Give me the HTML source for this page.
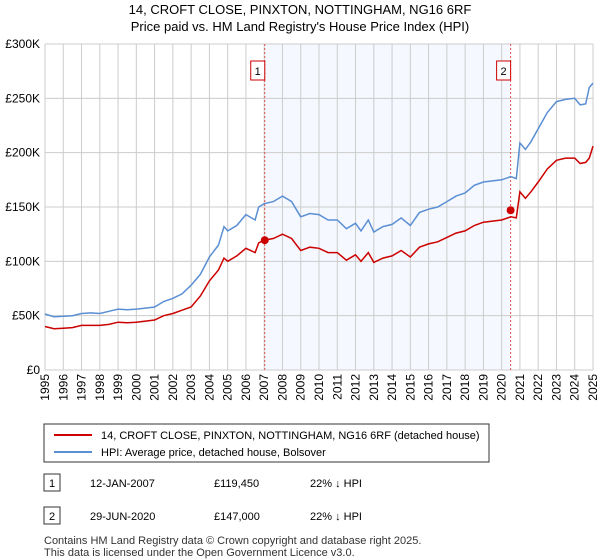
<!DOCTYPE html>
<html><head><meta charset="utf-8"><style>
body{margin:0;background:#fff;font-family:"Liberation Sans",sans-serif;color:#222}
#wrap{position:relative;width:600px;height:560px;overflow:hidden}
</style></head><body>
<div id="wrap">
<svg id="c" width="600" height="560" xmlns="http://www.w3.org/2000/svg" font-family="Liberation Sans, sans-serif">
<text x="300" y="14" text-anchor="middle" font-size="13">14, CROFT CLOSE, PINXTON, NOTTINGHAM, NG16 6RF</text>
<text x="300" y="31" text-anchor="middle" font-size="13">Price paid vs. HM Land Registry's House Price Index (HPI)</text>
<g id="grid"></g><g id="marks"></g><g id="axes"></g>
<rect x="44" y="424" width="445" height="38" fill="#fff" stroke="#333" stroke-width="1"/>
<line x1="54" y1="435" x2="92" y2="435" stroke="#cc0000" stroke-width="2"/>
<text x="101" y="439" font-size="11">14, CROFT CLOSE, PINXTON, NOTTINGHAM, NG16 6RF (detached house)</text>
<line x1="54" y1="452" x2="92" y2="452" stroke="#5b8fd4" stroke-width="2"/>
<text x="101" y="456" font-size="11">HPI: Average price, detached house, Bolsover</text>
<rect x="44" y="474" width="16" height="17" fill="#fff" stroke="#333"/>
<text x="52" y="487" font-size="11" text-anchor="middle">1</text>
<text x="90" y="487" font-size="11">12-JAN-2007</text>
<text x="214" y="487" font-size="11">£119,450</text>
<text x="310" y="487" font-size="11">22% ↓ HPI</text>
<rect x="44" y="507" width="16" height="17" fill="#fff" stroke="#333"/>
<text x="52" y="520" font-size="11" text-anchor="middle">2</text>
<text x="90" y="520" font-size="11">29-JUN-2020</text>
<text x="214" y="520" font-size="11">£147,000</text>
<text x="310" y="520" font-size="11">22% ↓ HPI</text>
<text x="44" y="544" font-size="11" fill="#333">Contains HM Land Registry data © Crown copyright and database right 2025.</text>
<text x="44" y="556" font-size="11" fill="#333">This data is licensed under the Open Government Licence v3.0.</text>
</svg>
</div>
<script>
const years=[1995,1995.5,1996,1996.5,1997,1997.5,1998,1998.5,1999,1999.5,2000,2000.5,2001,2001.5,2002,2002.5,2003,2003.5,2004,2004.5,2004.8,2005,2005.5,2006,2006.5,2006.7,2007,2007.5,2008,2008.5,2009,2009.5,2010,2010.5,2011,2011.5,2012,2012.3,2012.7,2013,2013.5,2014,2014.5,2015,2015.5,2016,2016.5,2017,2017.5,2018,2018.5,2019,2019.5,2020,2020.5,2020.8,2021,2021.3,2021.6,2022,2022.5,2023,2023.5,2024,2024.3,2024.6,2024.8,2025];
const hpi=[51.5,49,49.5,50,52,52.5,52,54,56,55.5,56,57,58,63,66,70,78,88,104,115,132,128,133,143,138,150,153,155,160,155,141,144,143,138,138,130,135,128,138,127,132,134,140,133,145,148,150,155,160,163,170,173,174,175,178,176,209,203,210,222,237,247,249,250,244,245,260,264];
const price=[40,38,38.5,39,41,41,41,42,44,43.5,44,45,46,50,52,55,58,68,82,92,103,100,105,112,108,117,119.5,121,125,121,110,113,112,108,108,101,106,100,108,99,103,105,110,104,113,116,118,122,126,128,133,136,137,138,141,140,164,158,164,173,185,193,195,195,190,191,195,206];
const saleYears=[2007.03,2020.49];
const salePrices=[119.45,147];
const saleLabels=["1","2"];
const yTicks=[0,50,100,150,200,250,300];
const yTickLabels=["£0","£50K","£100K","£150K","£200K","£250K","£300K"];
const xTicks=[1995,1996,1997,1998,1999,2000,2001,2002,2003,2004,2005,2006,2007,2008,2009,2010,2011,2012,2013,2014,2015,2016,2017,2018,2019,2020,2021,2022,2023,2024,2025];

const X0=45,X1=593,Y0=370,Y1=44;
const sx=y=>X0+(y-1995)/30*(X1-X0);
const sy=v=>Y0-v/300*(Y0-Y1);
const NS="http://www.w3.org/2000/svg";
function mk(tag,attrs,parent){const e=document.createElementNS(NS,tag);for(const k in attrs)e.setAttribute(k,attrs[k]);parent.appendChild(e);return e;}
const grid=document.getElementById('grid'),marks=document.getElementById('marks'),axes=document.getElementById('axes');

const shade=mk('rect',{x:sx(saleYears[0]),y:Y1,width:sx(saleYears[1])-sx(saleYears[0]),height:Y0-Y1,fill:'#f5f8fe'},grid);


xTicks.forEach(t=>{
  const l=mk('line',{x1:sx(t),x2:sx(t),y1:Y1,y2:Y0,stroke:'#cccccc','stroke-width':1},grid);
  
  
  const tx=mk('text',{x:0,y:0,'font-size':12,'text-anchor':'end',transform:`translate(${sx(t)+4},${Y0+4}) rotate(-90)`},axes);
  tx.textContent=t;
  
  
});
yTicks.forEach((t,i)=>{
  const l=mk('line',{x1:X0,x2:X1,y1:sy(t),y2:sy(t),stroke:'#cccccc','stroke-width':1},grid);
  
  
  const tx=mk('text',{x:40,y:sy(t)+4,'font-size':12,'text-anchor':'end'},axes);
  tx.textContent=yTickLabels[i];
  
  
});
saleYears.forEach((s,i)=>{
  const l=mk('line',{x1:sx(s),x2:sx(s),y1:Y1,y2:Y0,stroke:'#e05050','stroke-width':1,'stroke-dasharray':'2,2'},marks);
  
  
  const r=mk('rect',{x:sx(s)-14,y:61,width:14,height:19,fill:'#fff',stroke:'#cc0000'},marks);
  
  
  const t=mk('text',{x:sx(s)-7,y:75,'font-size':11,'text-anchor':'middle'},marks);
  t.textContent=saleLabels[i];
  
  
});
const pts=a=>a.map((v,i)=>sx(years[i]).toFixed(1)+','+sy(v).toFixed(1)).join(' ');
const hl=mk('polyline',{points:pts(hpi),fill:'none',stroke:'#5b8fd4','stroke-width':1.5},marks);


const pl=mk('polyline',{points:pts(price),fill:'none',stroke:'#cc0000','stroke-width':1.5},marks);


saleYears.forEach((s,i)=>{
  const d=mk('circle',{cx:sx(s),cy:sy(salePrices[i]),r:4,fill:'#cc0000'},marks);
  
  
});
</script>
</body></html>
